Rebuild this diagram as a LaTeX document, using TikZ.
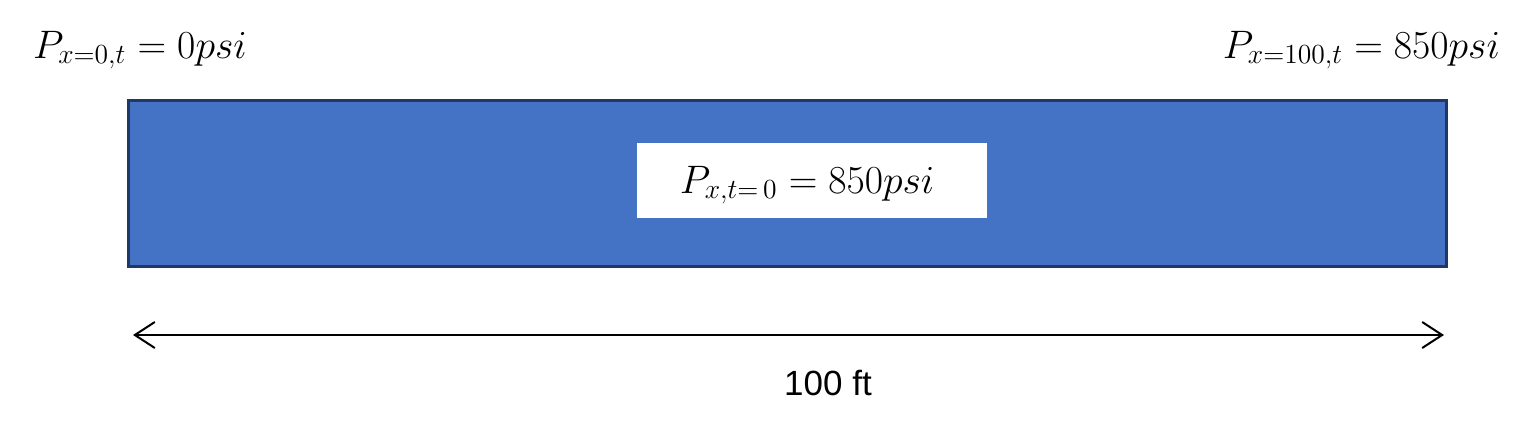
\documentclass[tikz,border=0pt]{standalone}
\usepackage{graphicx}
\usepackage{fontspec}
\newfontfamily\arialfont{Liberation Sans}
\usetikzlibrary{arrows.meta}
\definecolor{fillblue}{HTML}{4472C4}
\definecolor{edgeblue}{HTML}{1F3864}
\newcommand{\biglbl}[1]{\scalebox{2.3}{\fontsize{17.28}{20}\selectfont #1}}
\tikzset{
  lbl/.style={inner sep=0pt},
  dimline/.style={line width=2pt, {Straight Barb[length=20pt,width=26pt,line width=2pt]}-{Straight Barb[length=20pt,width=26pt,line width=2pt]}},
}
\begin{document}
\begin{tikzpicture}[x=1pt,y=-1pt]
\useasboundingbox (0,0) rectangle (1535,424);
\node[draw=edgeblue, line width=3pt, fill=fillblue, minimum width=1318pt, minimum height=166pt, inner sep=0pt, anchor=north west] (bar) at (127,99) {};
\node[fill=white, minimum width=350pt, minimum height=75pt, inner sep=0pt, anchor=north west] (init) at (637,143) {};
\node[lbl, anchor=base] (initlbl) at (807,193) {\biglbl{$P_{x,t=\,0} = 850 psi$}};
\node[lbl, anchor=base west] (left) at (33,58) {\biglbl{$P_{x=0,t} = 0 psi$}};
\node[lbl, anchor=base east] (right) at (1500,58) {\biglbl{$P_{x=100,t} = 850 psi$}};
\coordinate (a) at (133,335);
\coordinate (b) at (1444,335);
\draw[dimline] (a) -- (b);
\node[inner sep=0pt, anchor=base, font=\arialfont\fontsize{35}{40}\selectfont] (len) at (828,395) {100 ft};
\end{tikzpicture}
\end{document}
